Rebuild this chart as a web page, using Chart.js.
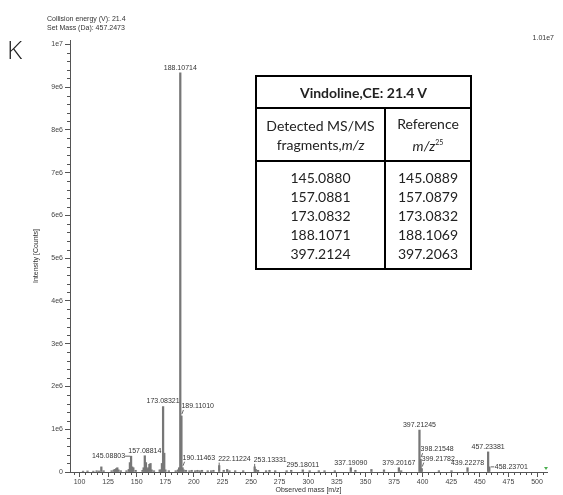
<!DOCTYPE html>
<html>
<head>
<meta charset="utf-8">
<script src="https://cdn.jsdelivr.net/npm/chart.js@4.4.0/dist/chart.umd.min.js"></script>
<style>
html,body{margin:0;padding:0;background:#fff;}
#wrap{position:relative;width:563px;height:495px;overflow:hidden;background:#fff;}
#c{position:absolute;left:0;top:0;}
.small{position:absolute;font-family:"Liberation Sans",Arial,sans-serif;font-size:7px;color:#333;white-space:nowrap;line-height:1;}
#K{position:absolute;left:7px;top:36px;font-family:"Open Sans","Liberation Sans",sans-serif;font-weight:300;font-size:26px;color:#222;line-height:1;}
#tbl{position:absolute;left:255px;top:75px;width:217px;height:195px;border-collapse:collapse;border:2px solid #000;font-family:Lato,"Open Sans",sans-serif;color:#222;text-align:center;}
#tbl td{border:2px solid #000;padding:0;vertical-align:middle;}
#tbl .h{font-weight:bold;font-size:14px;height:30px;}
#tbl .sub td{font-size:14px;line-height:19px;height:51px;}
#tbl .vals td{font-size:14px;line-height:19px;}
</style>
</head>
<body>
<div id="wrap">
<canvas id="c" width="563" height="495"></canvas>
<div class="small" style="left:47px;top:15px;">Collision energy (V): 21.4</div>
<div class="small" style="left:47px;top:24px;">Set Mass (Da): 457.2473</div>
<div class="small" style="right:9px;top:34px;">1.01e7</div>
<div id="K">K</div>
<table id="tbl"></table>
</div>
<script>
// ---- data ----
const mz = [103.1, 107.0, 112.1, 115.0, 117.1, 119.09, 121.1, 128.1, 130.07, 131.07, 132.08, 133.07, 134.1, 136.1,
  141.1, 143.08, 144.08, 145.08803, 146.09, 147.08, 149.1, 155.1, 156.08, 157.08814, 158.09, 159.09, 160.08, 161.1,
  162.09, 163.1, 165.1, 170.1, 171.1, 172.08, 173.08321, 174.09, 175.1, 178.1, 184.1, 186.1, 187.1, 188.10714,
  189.11010, 190.11463, 191.1, 193.1, 196.1, 198.1, 201.1, 203.1, 205.1, 207.1, 212.1, 215.1, 217.1, 222.11224,
  226.1, 229.1, 231.1, 236.1, 243.1, 253.13331, 254.1, 256.1, 263.1, 266.1, 271.1, 281.1, 285.1, 295.18011, 301.2,
  309.2, 314.2, 323.2, 337.19090, 341.2, 355.2, 366.2, 379.20167, 381.2, 397.21245, 398.21548, 399.21782, 414.2,
  425.2, 439.22278, 457.23381, 458.23701];
const intensity = [20000, 25000, 20000, 30000, 25000, 120000, 30000, 30000, 50000, 60000, 80000, 100000, 50000, 30000,
  30000, 60000, 220000, 370000, 120000, 100000, 40000, 40000, 100000, 380000, 220000, 60000, 100000, 180000,
  200000, 50000, 30000, 50000, 50000, 200000, 1530000, 440000, 50000, 30000, 30000, 50000, 100000, 9330000,
  1310000, 100000, 50000, 40000, 30000, 40000, 30000, 40000, 30000, 40000, 30000, 30000, 40000, 150000,
  40000, 60000, 30000, 30000, 30000, 120000, 60000, 40000, 30000, 40000, 30000, 30000, 40000, 50000, 30000,
  30000, 30000, 30000, 100000, 40000, 60000, 50000, 100000, 30000, 980000, 300000, 80000, 30000,
  30000, 100000, 470000, 120000];
const labelledMz = [145.08803, 157.08814, 173.08321, 188.10714, 189.11010, 190.11463, 222.11224, 253.13331,
  295.18011, 337.19090, 379.20167, 397.21245, 398.21548, 399.21782, 439.22278, 457.23381, 458.23701];
const xTickValues = [100, 125, 150, 175, 200, 225, 250, 275, 300, 325, 350, 375, 400, 425, 450, 475, 500];
const yTickValues = [0, 1e6, 2e6, 3e6, 4e6, 5e6, 6e6, 7e6, 8e6, 9e6, 1e7];
const detectedFragments = ['145.0880', '157.0881', '173.0832', '188.1071', '397.2124'];
const referenceMz = ['145.0889', '157.0879', '173.0832', '188.1069', '397.2063'];

// ---- table ----
const tbl = document.getElementById('tbl');
tbl.innerHTML =
  '<tr><td class="h" colspan="2">Vindoline,CE: 21.4 V</td></tr>' +
  '<tr class="sub"><td style="width:127px">Detected MS/MS<br>fragments,<i>m/z</i></td><td><span>Reference</span><br><i>m/z</i><sup style="font-size:7px">25</sup></td></tr>' +
  '<tr class="vals"><td>' + detectedFragments.join('<br>') + '</td><td>' + referenceMz.join('<br>') + '</td></tr>';

// ---- plugins ----
const FONT = '"Liberation Sans", Arial, sans-serif';
function seg(ctx, x1, y1, x2, y2) { ctx.beginPath(); ctx.moveTo(x1, y1); ctx.lineTo(x2, y2); ctx.stroke(); }

const decor = {
  id: 'decor',
  afterDraw(chart, args, opts) {
    const {ctx, scales: {x, y}} = chart;
    ctx.save();
    // minor ticks
    ctx.strokeStyle = '#555'; ctx.lineWidth = 1;
    for (let v = Math.ceil(x.min / 5) * 5; v <= x.max; v += 5) {
      if (v % 25 === 0) continue;
      const p = Math.round(x.getPixelForValue(v)) + 0.5;
      seg(ctx, p, x.top, p, x.top + 3);
    }
    for (let k = 1; k * 2e5 <= y.max; k++) {
      if (k % 5 === 0) continue;
      const p = Math.round(y.getPixelForValue(k * 2e5)) + 0.5;
      seg(ctx, y.right - 3, p, y.right, p);
    }
    // peak labels
    ctx.font = '7px ' + FONT;
    ctx.fillStyle = '#333'; ctx.strokeStyle = '#444'; ctx.lineWidth = 0.8;
    ctx.textBaseline = 'middle';
    labelledMz.forEach((m, i) => {
      const k = mz.indexOf(m);
      const px = x.getPixelForValue(m), top = y.getPixelForValue(intensity[k]);
      const st = opts.styles[i];
      const txt = m.toFixed(5);
      if (st === 'c') { ctx.textAlign = 'center'; ctx.fillText(txt, px, top - 5); }
      else if (st === 'l') { ctx.textAlign = 'left'; ctx.fillText(txt, px - 1, top - 7); seg(ctx, px, top - 3, px, top); }
      else if (st === 'sl') { ctx.textAlign = 'left'; ctx.fillText(txt, px, top - 10); seg(ctx, px + 0.5, top - 2, px + 2, top - 6); }
      else if (st === 'dl') { ctx.textAlign = 'right'; ctx.fillText(txt, px - 6, top); seg(ctx, px - 6, top, px - 1, top); }
      else if (st === 'dr') { ctx.textAlign = 'left'; seg(ctx, px + 1.5, top, px + 5, top); ctx.fillText(txt, px + 5.5, top); }
    });
    // axis titles
    ctx.fillStyle = '#333'; ctx.textAlign = 'center';
    ctx.fillText('Observed mass [m/z]', (x.left + x.right) / 2, x.bottom - 5);
    ctx.save();
    ctx.translate(y.left + 36, (y.top + y.bottom) / 2);
    ctx.rotate(-Math.PI / 2);
    ctx.fillText('Intensity [Counts]', 0, 0);
    ctx.restore();
    // precursor marker (green)
    ctx.fillStyle = '#4caf50';
    const gx = x.right - 1, gy = x.top - 2;
    ctx.beginPath(); ctx.moveTo(gx - 2, gy - 3); ctx.lineTo(gx + 2, gy - 3); ctx.lineTo(gx, gy); ctx.closePath(); ctx.fill();
    ctx.restore();
  }
};

new Chart(document.getElementById('c'), {
  type: 'bar',
  data: {
    datasets: [{
      data: mz.map((m, i) => ({x: m, y: intensity[i]})),
      backgroundColor: '#777777',
      borderWidth: 0,
      barThickness: 1.6
    }]
  },
  options: {
    responsive: false,
    animation: false,
    devicePixelRatio: 1,
    layout: {padding: {top: 40, right: 16, left: 0, bottom: 0}},
    plugins: {legend: {display: false}, tooltip: {enabled: false}, decor: {styles: ['dl', 'c', 'c', 'c', 'sl', 'sl', 'l', 'l', 'c', 'c', 'c', 'c', 'sl', 'sl', 'c', 'c', 'dr']}},
    scales: {
      x: {
        type: 'linear', min: 91.7, max: 508.7, offset: false,
        afterBuildTicks: s => { s.ticks = xTickValues.map(v => ({value: v})); },
        afterFit: s => { s.height = 23; },
        ticks: {autoSkip: false, maxRotation: 0, padding: 1, color: '#444', font: {size: 7, family: FONT}},
        grid: {offset: false, drawOnChartArea: false, tickLength: 5, color: '#555'},
        border: {color: '#555', width: 1}
      },
      y: {
        min: 0, max: 1.01e7,
        afterBuildTicks: s => { s.ticks = yTickValues.map(v => ({value: v})); },
        afterFit: s => { s.width = 70; },
        ticks: {autoSkip: false, padding: 2, color: '#444', font: {size: 7, family: FONT},
          callback: v => v === 0 ? '0' : Number(v).toExponential(0).replace('+', '')},
        grid: {drawOnChartArea: false, tickLength: 5, color: '#555'},
        border: {color: '#555', width: 1}
      }
    }
  },
  plugins: [decor]
});
</script>
</body>
</html>
